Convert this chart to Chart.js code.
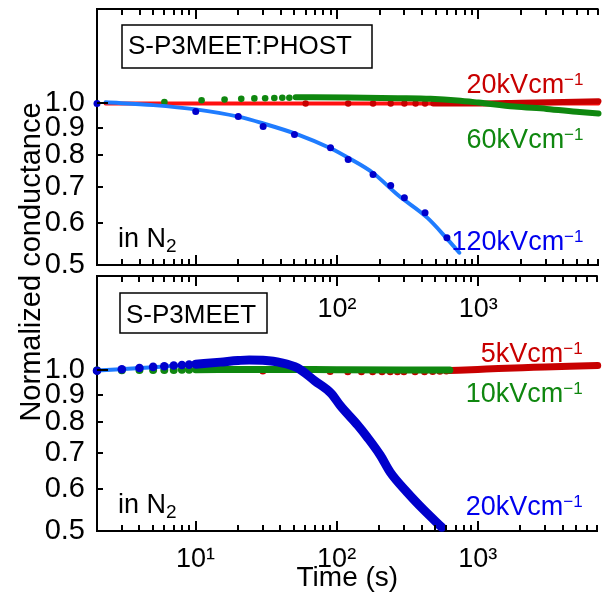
<!DOCTYPE html>
<html>
<head>
<meta charset="utf-8">
<script src="https://cdn.jsdelivr.net/npm/chart.js@4.4.1/dist/chart.umd.min.js"></script>
<style>
  html, body { margin: 0; padding: 0; background: #fff; }
  #wrap { position: relative; width: 602px; height: 596px; overflow: hidden; background: #fff; }
  #wrap canvas { position: absolute; left: 0; top: 0; }
</style>
</head>
<body>
<div id="wrap">
  <canvas id="upper" width="602" height="596"></canvas>
  <canvas id="lower" width="602" height="596"></canvas>
</div>
<script>
// ---------- axes ----------
const TIME_MIN = 2, TIME_MAX = 7100;
const COND_MIN = 0.5, COND_MAX = 1.5;
const decadeTimes = [10, 100, 1000];
const decadeLabels = ['10\u00B9', '10\u00B2', '10\u00B3'];
const yTickValues = [0.5, 0.6, 0.7, 0.8, 0.9, 1.0];
const yTickLabels = ['0.5', '0.6', '0.7', '0.8', '0.9', '1.0'];

// ---------- texts ----------
const upperTitle = 'S-P3MEET:PHOST';
const lowerTitle = 'S-P3MEET';
const atmosphere = ['in N', '2'];
const fieldUnitSup = '\u22121';
const upperFields = ['20kVcm', '60kVcm', '120kVcm'];
const lowerFields = ['5kVcm', '10kVcm', '20kVcm'];
const yAxisTitle = 'Normalized conductance';
const xAxisTitle = 'Time (s)';

// ---------- S-P3MEET:PHOST ----------
const phostRed20Times = [60, 120, 180, 240, 300, 360, 420];
const phostRed20Values = [1.0, 1.0, 1.0, 1.0, 1.0, 1.0, 1.0];
const phostRed20DenseTimes = [480, 1000, 2000, 4000, 7100];
const phostRed20DenseValues = [1.0, 1.0, 1.003, 1.006, 1.01];
const phostRed20FitTimes = [2.3, 100, 1000, 7100];
const phostRed20FitValues = [1.0, 1.0, 1.0, 1.0];

const phostGreen60Times = [6, 11, 16, 21, 26, 31, 36, 41, 46];
const phostGreen60Values = [1.006, 1.014, 1.017, 1.02, 1.022, 1.023, 1.024, 1.025, 1.025];
const phostGreen60DenseTimes = [51, 120, 270, 460, 710, 1000, 1800, 3050, 5230, 7100];
const phostGreen60DenseValues = [1.027, 1.026, 1.023, 1.02, 1.013, 1.004, 0.987, 0.977, 0.964, 0.958];

const phostBlue120Times = [2, 10, 20, 30, 50, 90, 120, 180, 240, 300, 420, 600];
const phostBlue120Values = [1.0, 0.966, 0.946, 0.906, 0.875, 0.827, 0.786, 0.737, 0.703, 0.667, 0.626, 0.562];
const phostBlue120FitTimes = [2.3, 5, 10, 20, 30, 53, 90, 120, 180, 270, 437, 600, 735];
const phostBlue120FitValues = [1.005, 0.993, 0.975, 0.945, 0.918, 0.875, 0.825, 0.792, 0.742, 0.675, 0.612, 0.56, 0.527];

// ---------- S-P3MEET ----------
const meetRed5Times = [30, 60, 90, 120, 150, 180, 210, 240, 270, 300, 360, 420, 480, 540, 600];
const meetRed5Values = [0.996, 0.994, 0.994, 0.993, 0.993, 0.993, 0.993, 0.993, 0.993, 0.993, 0.993, 0.993, 0.994, 0.995, 0.996];
const meetRed5DenseTimes = [630, 1000, 1400, 2500, 4500, 7100];
const meetRed5DenseValues = [0.998, 1.003, 1.007, 1.012, 1.017, 1.02];

const meetGreen10Times = [2, 3, 4, 5, 6, 7, 8, 9];
const meetGreen10Values = [0.998, 0.999, 1.0, 1.0, 1.001, 1.001, 1.002, 1.002];
const meetGreen10DenseTimes = [10, 30, 100, 300, 635];
const meetGreen10DenseValues = [1.002, 1.003, 1.002, 1.001, 1.0];

const meetBlue20Times = [2, 3, 4, 5, 6, 7, 8, 9];
const meetBlue20Values = [0.997, 1.004, 1.009, 1.014, 1.017, 1.02, 1.022, 1.024];
const meetBlue20DenseTimes = [10, 15, 20, 24, 30, 40, 53, 70, 91, 107, 141, 165, 204, 240, 316, 417, 557];
const meetBlue20DenseValues = [1.026, 1.035, 1.042, 1.045, 1.043, 1.033, 1.009, 0.955, 0.906, 0.856, 0.789, 0.749, 0.693, 0.644, 0.591, 0.547, 0.508];
const meetBlue20FitTimes = [2, 5, 10, 20];
const meetBlue20FitValues = [0.998, 1.012, 1.025, 1.04];

// ---------- style ----------
const FONT = "'Liberation Sans', Arial, Helvetica, sans-serif";
const RED = '#c80000', RED_FIT = '#ff1010';
const GREEN = '#0f870f';
const BLUE = '#0000cc', BLUE_FIT = '#1f7cff', BLUE_TEXT = '#0000ee';
const W = 602, H = 596;

Chart.defaults.font.family = FONT;
Chart.defaults.color = '#000';

const pts = (ts, vs) => ts.map((t, i) => ({ x: t, y: vs[i] }));

// every 1..9 x 10^n mark between the axis limits
const xTickValues = [];
[1, 10, 100, 1000].forEach(d => {
  for (let m = 1; m <= 9; m++) {
    const v = m * d;
    if (v >= TIME_MIN && v <= TIME_MAX) xTickValues.push(v);
  }
});
const isDecade = v => decadeTimes.some(d => Math.abs(v - d) < 1e-9);

function dots(times, values, color, r, order) {
  return { data: pts(times, values), showLine: false, pointRadius: r, pointHoverRadius: r,
    pointBackgroundColor: color, pointBorderWidth: 0, borderColor: color, order, clip: false };
}
function band(times, values, color, width, order) {
  return { data: pts(times, values), showLine: true, pointRadius: 0, pointHoverRadius: 0,
    borderColor: color, borderWidth: width, borderCapStyle: 'round', borderJoinStyle: 'round',
    cubicInterpolationMode: 'monotone', order, clip: false };
}

// frame top line and inward tick marks
const frameTicks = {
  id: 'frameTicks',
  afterDraw(chart) {
    const { ctx, chartArea: a, scales: { x, y } } = chart;
    ctx.save();
    ctx.strokeStyle = '#000';
    ctx.lineWidth = 2;
    ctx.beginPath();
    ctx.moveTo(a.left - 1, a.top);
    ctx.lineTo(a.right, a.top);
    x.ticks.forEach(t => {
      const px = Math.round(x.getPixelForValue(t.value));
      const len = isDecade(t.value) ? 10 : 6;
      ctx.moveTo(px, a.bottom); ctx.lineTo(px, a.bottom - len);
      ctx.moveTo(px, a.top); ctx.lineTo(px, a.top + len);
    });
    y.ticks.forEach(t => {
      const py = Math.round(y.getPixelForValue(t.value));
      const len = Math.abs(t.value - 1) < 1e-9 ? 11 : 6;
      ctx.moveTo(a.left, py); ctx.lineTo(a.left + len, py);
    });
    ctx.stroke();
    ctx.restore();
  }
};

function textRun(ctx, parts, x, base, align, color) {
  ctx.fillStyle = color;
  ctx.textBaseline = 'alphabetic';
  ctx.textAlign = 'left';
  let total = 0;
  parts.forEach(p => { ctx.font = p.size + 'px ' + FONT; p.w = ctx.measureText(p.t).width; total += p.w; });
  let cx = align === 'right' ? x - total : x;
  parts.forEach(p => { ctx.font = p.size + 'px ' + FONT; ctx.fillText(p.t, cx, base + (p.dy || 0)); cx += p.w; });
}

function panelText(spec) {
  return {
    id: 'panelText',
    afterDraw(chart) {
      const { ctx, chartArea: a } = chart;
      ctx.save();
      // sample name box
      const b = spec.box;
      ctx.fillStyle = '#fff';
      ctx.fillRect(a.left + b.dx, a.top + b.dy, b.w, b.h);
      ctx.strokeStyle = '#000';
      ctx.lineWidth = 1.5;
      ctx.strokeRect(a.left + b.dx, a.top + b.dy, b.w, b.h);
      textRun(ctx, [{ t: b.text, size: 26 }], a.left + b.dx + 6, a.top + b.dy + b.base, 'left', '#000');
      // field strengths
      spec.fields.forEach(f => {
        textRun(ctx, [{ t: f.text, size: 27 }, { t: fieldUnitSup, size: 17, dy: -8 }],
          a.right - 15, a.top + f.base, 'right', f.color);
      });
      // atmosphere
      textRun(ctx, [{ t: atmosphere[0], size: 27 }, { t: atmosphere[1], size: 19, dy: 5 }],
        a.left + 21, a.bottom - 18, 'left', '#000');
      if (spec.yTitle) {
        ctx.translate(40, 262);
        ctx.rotate(-Math.PI / 2);
        ctx.font = '29px ' + FONT;
        ctx.fillStyle = '#000';
        ctx.textAlign = 'center';
        ctx.textBaseline = 'alphabetic';
        ctx.fillText(yAxisTitle, 0, 0);
      }
      ctx.restore();
    }
  };
}

function zeroPad(s) { s.paddingTop = 0; s.paddingBottom = 0; s.paddingLeft = 0; s.paddingRight = 0; }

function makePanel(id, area, datasets, spec, labelPad, showXTitle) {
  return new Chart(document.getElementById(id), {
    type: 'line',
    data: { datasets },
    options: {
      responsive: false, animation: false, devicePixelRatio: 1, events: [],
      layout: { padding: { top: area.top, left: 0, right: 0, bottom: 0 } },
      plugins: { legend: { display: false }, tooltip: { enabled: false } },
      scales: {
        x: {
          type: 'logarithmic', min: TIME_MIN, max: TIME_MAX, bounds: 'data',
          grid: { display: false },
          border: { display: true, color: '#000', width: 2 },
          afterBuildTicks: s => { s.ticks = xTickValues.map(v => ({ value: v })); },
          afterFit: s => { s.height = H - area.bottom; zeroPad(s); },
          ticks: {
            autoSkip: false, maxRotation: 0, minRotation: 0, padding: labelPad,
            color: '#000', font: { size: 27 },
            callback: v => { const i = decadeTimes.findIndex(d => Math.abs(d - v) < 1e-9); return i >= 0 ? decadeLabels[i] : ''; }
          },
          title: { display: showXTitle, text: xAxisTitle, color: '#000', font: { size: 28 }, padding: { top: 0, bottom: 1 } }
        },
        y: {
          type: 'logarithmic', min: COND_MIN, max: COND_MAX, bounds: 'data',
          grid: { display: false },
          border: { display: true, color: '#000', width: 2 },
          afterBuildTicks: s => { s.ticks = yTickValues.map(v => ({ value: v })); },
          afterFit: s => { s.width = area.left; zeroPad(s); },
          ticks: {
            autoSkip: false, padding: 4, color: '#000', font: { size: 29 },
            callback: v => { const i = yTickValues.findIndex(d => Math.abs(d - v) < 1e-9); return i >= 0 ? yTickLabels[i] : ''; }
          }
        }
      }
    },
    plugins: [frameTicks, panelText(spec)]
  });
}

// upper panel: S-P3MEET:PHOST
makePanel('upper', { left: 97, top: 9, bottom: 265 }, [
  dots(phostBlue120Times, phostBlue120Values, BLUE, 3.5, 0),
  band(phostBlue120FitTimes, phostBlue120FitValues, BLUE_FIT, 4, 1),
  band(phostGreen60DenseTimes, phostGreen60DenseValues, GREEN, 6, 2),
  dots(phostGreen60Times, phostGreen60Values, GREEN, 3.3, 3),
  band(phostRed20DenseTimes, phostRed20DenseValues, RED, 6, 4),
  dots(phostRed20Times, phostRed20Values, RED, 3.2, 5),
  band(phostRed20FitTimes, phostRed20FitValues, RED_FIT, 4, 6)
], {
  box: { text: upperTitle, dx: 25, dy: 16, w: 250, h: 43, base: 28.5 },
  fields: [
    { text: upperFields[0], color: RED, base: 84 },
    { text: upperFields[1], color: GREEN, base: 139 },
    { text: upperFields[2], color: BLUE_TEXT, base: 241 }
  ]
}, 20, false);

// lower panel: S-P3MEET
makePanel('lower', { left: 97, top: 276, bottom: 531 }, [
  band(meetBlue20DenseTimes, meetBlue20DenseValues, BLUE, 9, 0),
  dots(meetBlue20Times, meetBlue20Values, BLUE, 4.3, 1),
  band(meetBlue20FitTimes, meetBlue20FitValues, BLUE_FIT, 4, 2),
  band(meetGreen10DenseTimes, meetGreen10DenseValues, GREEN, 7, 3),
  dots(meetGreen10Times, meetGreen10Values, GREEN, 4, 4),
  band(meetRed5DenseTimes, meetRed5DenseValues, RED, 7, 5),
  dots(meetRed5Times, meetRed5Values, RED, 3.5, 6)
], {
  box: { text: lowerTitle, dx: 23, dy: 17, w: 147, h: 40, base: 29.5 },
  fields: [
    { text: lowerFields[0], color: RED, base: 86 },
    { text: lowerFields[1], color: GREEN, base: 126 },
    { text: lowerFields[2], color: BLUE_TEXT, base: 239 }
  ],
  yTitle: true
}, 4, true);
</script>
</body>
</html>
